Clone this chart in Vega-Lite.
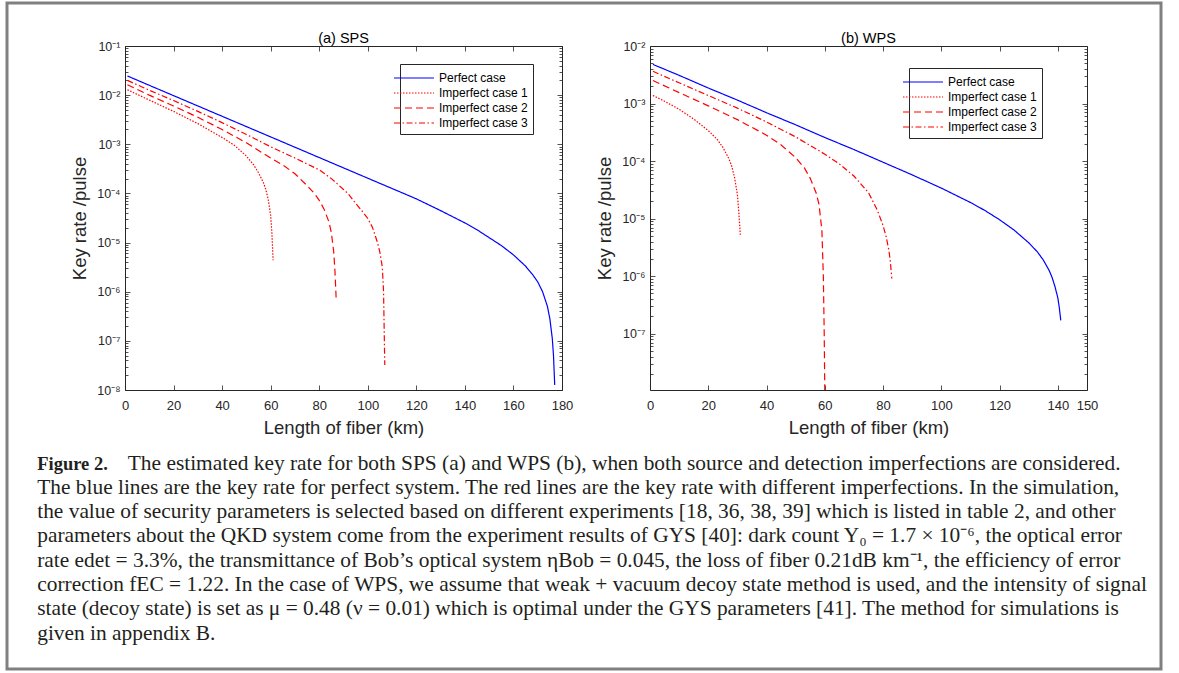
{
 "$schema": "https://vega.github.io/schema/vega-lite/v6.json",
 "background": "white",
 "padding": {"left": 5, "top": 1, "right": 0, "bottom": 0},
 "config": {
  "font": "Liberation Sans",
  "view": {"stroke": "#262626", "strokeWidth": 1},
  "axis": {"grid": false, "domain": false, "tickColor": "#262626", "tickWidth": 0.8, "tickSize": -5, "labelColor": "#262626", "labelFont": "Liberation Sans", "labelFontSize": 13, "labelFlush": false, "labelOverlap": false, "labelBound": false, "titleFont": "Liberation Sans", "titleFontSize": 18.5, "titleFontWeight": "normal", "titleColor": "#262626"},
  "axisLeft": {"titlePadding": 7, "labelPadding": 10, "labelFontSize": 12.5},
  "axisBottom": {"titlePadding": 6, "labelPadding": 14},
  "title": {"font": "Liberation Sans", "fontSize": 14.5, "fontWeight": "normal", "color": "#000000", "offset": -6.5},
  "legend": {"strokeColor": "#262626", "fillColor": "white", "padding": 5, "symbolType": "M-2.5,0H2.5", "symbolSize": 256, "symbolStrokeWidth": 1.2, "labelFont": "Liberation Sans", "labelFontSize": 12, "labelColor": "#000000", "labelOffset": 16, "rowPadding": 0, "cornerRadius": 0, "labelLimit": 200}
 },
 "datasets": {
  "sps": [
   {"series": "Perfect case", "x": 1, "y": 0.02455}, {"series": "Perfect case", "x": 10, "y": 0.01585}, {"series": "Perfect case", "x": 20, "y": 0.009772}, {"series": "Perfect case", "x": 30, "y": 0.006026}, {"series": "Perfect case", "x": 40, "y": 0.003715}, {"series": "Perfect case", "x": 50, "y": 0.002291}, {"series": "Perfect case", "x": 60, "y": 0.001413}, {"series": "Perfect case", "x": 70, "y": 0.000871}, {"series": "Perfect case", "x": 80, "y": 0.000537}, {"series": "Perfect case", "x": 90, "y": 0.000331}, {"series": "Perfect case", "x": 100, "y": 0.000204}, {"series": "Perfect case", "x": 110, "y": 0.0001259}, {"series": "Perfect case", "x": 120, "y": 0.0000776}, {"series": "Perfect case", "x": 130, "y": 0.0000447}, {"series": "Perfect case", "x": 140, "y": 0.0000251}, {"series": "Perfect case", "x": 145, "y": 0.0000182}, {"series": "Perfect case", "x": 150, "y": 0.00001259}, {"series": "Perfect case", "x": 155, "y": 0.00000871}, {"series": "Perfect case", "x": 160, "y": 0.00000562}, {"series": "Perfect case", "x": 165, "y": 0.00000331}, {"series": "Perfect case", "x": 168, "y": 0.00000219}, {"series": "Perfect case", "x": 170, "y": 0.000001585}, {"series": "Perfect case", "x": 172, "y": 0.000001}, {"series": "Perfect case", "x": 174, "y": 5.01e-7}, {"series": "Perfect case", "x": 175, "y": 2.82e-7}, {"series": "Perfect case", "x": 176, "y": 1.12e-7}, {"series": "Perfect case", "x": 176.5, "y": 5.01e-8}, {"series": "Perfect case", "x": 177, "y": 1.26e-8},
   {"series": "Imperfect case 1", "x": 1, "y": 0.01288}, {"series": "Imperfect case 1", "x": 10, "y": 0.007943}, {"series": "Imperfect case 1", "x": 20, "y": 0.004677}, {"series": "Imperfect case 1", "x": 30, "y": 0.00263}, {"series": "Imperfect case 1", "x": 40, "y": 0.00138}, {"series": "Imperfect case 1", "x": 45, "y": 0.000955}, {"series": "Imperfect case 1", "x": 50, "y": 0.000575}, {"series": "Imperfect case 1", "x": 53, "y": 0.00038}, {"series": "Imperfect case 1", "x": 55, "y": 0.000263}, {"series": "Imperfect case 1", "x": 57, "y": 0.000166}, {"series": "Imperfect case 1", "x": 58, "y": 0.00012}, {"series": "Imperfect case 1", "x": 59, "y": 0.0000759}, {"series": "Imperfect case 1", "x": 60, "y": 0.0000355}, {"series": "Imperfect case 1", "x": 60.5, "y": 0.00001585}, {"series": "Imperfect case 1", "x": 61, "y": 0.00000437},
   {"series": "Imperfect case 2", "x": 1, "y": 0.01622}, {"series": "Imperfect case 2", "x": 10, "y": 0.01}, {"series": "Imperfect case 2", "x": 20, "y": 0.006026}, {"series": "Imperfect case 2", "x": 30, "y": 0.003548}, {"series": "Imperfect case 2", "x": 40, "y": 0.001995}, {"series": "Imperfect case 2", "x": 50, "y": 0.001072}, {"series": "Imperfect case 2", "x": 60, "y": 0.000525}, {"series": "Imperfect case 2", "x": 65, "y": 0.00038}, {"series": "Imperfect case 2", "x": 70, "y": 0.000251}, {"series": "Imperfect case 2", "x": 75, "y": 0.0001445}, {"series": "Imperfect case 2", "x": 78, "y": 0.0001}, {"series": "Imperfect case 2", "x": 80, "y": 0.0000724}, {"series": "Imperfect case 2", "x": 82, "y": 0.0000479}, {"series": "Imperfect case 2", "x": 84, "y": 0.0000263}, {"series": "Imperfect case 2", "x": 85, "y": 0.00001585}, {"series": "Imperfect case 2", "x": 86, "y": 0.00000631}, {"series": "Imperfect case 2", "x": 86.5, "y": 0.00000251}, {"series": "Imperfect case 2", "x": 87, "y": 6.76e-7},
   {"series": "Imperfect case 3", "x": 1, "y": 0.01995}, {"series": "Imperfect case 3", "x": 10, "y": 0.01259}, {"series": "Imperfect case 3", "x": 20, "y": 0.007762}, {"series": "Imperfect case 3", "x": 30, "y": 0.004677}, {"series": "Imperfect case 3", "x": 40, "y": 0.002754}, {"series": "Imperfect case 3", "x": 50, "y": 0.001585}, {"series": "Imperfect case 3", "x": 60, "y": 0.000891}, {"series": "Imperfect case 3", "x": 70, "y": 0.000525}, {"series": "Imperfect case 3", "x": 75, "y": 0.000398}, {"series": "Imperfect case 3", "x": 80, "y": 0.000302}, {"series": "Imperfect case 3", "x": 85, "y": 0.0002}, {"series": "Imperfect case 3", "x": 88, "y": 0.000148}, {"series": "Imperfect case 3", "x": 90, "y": 0.00012}, {"series": "Imperfect case 3", "x": 92, "y": 0.0000977}, {"series": "Imperfect case 3", "x": 95, "y": 0.0000631}, {"series": "Imperfect case 3", "x": 98, "y": 0.0000417}, {"series": "Imperfect case 3", "x": 100, "y": 0.0000309}, {"series": "Imperfect case 3", "x": 102, "y": 0.00002}, {"series": "Imperfect case 3", "x": 104, "y": 0.00001}, {"series": "Imperfect case 3", "x": 105, "y": 0.00000631}, {"series": "Imperfect case 3", "x": 106, "y": 0.00000316}, {"series": "Imperfect case 3", "x": 106.5, "y": 0.000001}, {"series": "Imperfect case 3", "x": 107, "y": 3.24e-8}
  ],
  "wps": [
   {"series": "Perfect case", "x": 1, "y": 0.004786}, {"series": "Perfect case", "x": 10, "y": 0.00309}, {"series": "Perfect case", "x": 20, "y": 0.001862}, {"series": "Perfect case", "x": 30, "y": 0.001148}, {"series": "Perfect case", "x": 40, "y": 0.000692}, {"series": "Perfect case", "x": 50, "y": 0.000427}, {"series": "Perfect case", "x": 60, "y": 0.000257}, {"series": "Perfect case", "x": 70, "y": 0.0001585}, {"series": "Perfect case", "x": 80, "y": 0.0000955}, {"series": "Perfect case", "x": 90, "y": 0.0000575}, {"series": "Perfect case", "x": 100, "y": 0.0000339}, {"series": "Perfect case", "x": 110, "y": 0.00001905}, {"series": "Perfect case", "x": 115, "y": 0.0000138}, {"series": "Perfect case", "x": 120, "y": 0.00000955}, {"series": "Perfect case", "x": 125, "y": 0.00000631}, {"series": "Perfect case", "x": 130, "y": 0.0000038}, {"series": "Perfect case", "x": 133, "y": 0.00000263}, {"series": "Perfect case", "x": 135, "y": 0.000001905}, {"series": "Perfect case", "x": 137, "y": 0.000001259}, {"series": "Perfect case", "x": 138, "y": 9.55e-7}, {"series": "Perfect case", "x": 139, "y": 6.61e-7}, {"series": "Perfect case", "x": 140, "y": 4.17e-7}, {"series": "Perfect case", "x": 140.5, "y": 2.82e-7}, {"series": "Perfect case", "x": 141, "y": 1.7e-7},
   {"series": "Imperfect case 1", "x": 1, "y": 0.00138}, {"series": "Imperfect case 1", "x": 5, "y": 0.001096}, {"series": "Imperfect case 1", "x": 10, "y": 0.000794}, {"series": "Imperfect case 1", "x": 15, "y": 0.000537}, {"series": "Imperfect case 1", "x": 20, "y": 0.000339}, {"series": "Imperfect case 1", "x": 23, "y": 0.00024}, {"series": "Imperfect case 1", "x": 25, "y": 0.0001738}, {"series": "Imperfect case 1", "x": 27, "y": 0.0001122}, {"series": "Imperfect case 1", "x": 28, "y": 0.0000832}, {"series": "Imperfect case 1", "x": 29, "y": 0.0000525}, {"series": "Imperfect case 1", "x": 30, "y": 0.0000263}, {"series": "Imperfect case 1", "x": 30.5, "y": 0.00001259}, {"series": "Imperfect case 1", "x": 31, "y": 0.00000525},
   {"series": "Imperfect case 2", "x": 1, "y": 0.002512}, {"series": "Imperfect case 2", "x": 10, "y": 0.001549}, {"series": "Imperfect case 2", "x": 20, "y": 0.000912}, {"series": "Imperfect case 2", "x": 30, "y": 0.000525}, {"series": "Imperfect case 2", "x": 40, "y": 0.000282}, {"series": "Imperfect case 2", "x": 45, "y": 0.0001905}, {"series": "Imperfect case 2", "x": 50, "y": 0.0001148}, {"series": "Imperfect case 2", "x": 53, "y": 0.0000759}, {"series": "Imperfect case 2", "x": 55, "y": 0.0000501}, {"series": "Imperfect case 2", "x": 57, "y": 0.0000282}, {"series": "Imperfect case 2", "x": 58, "y": 0.00001778}, {"series": "Imperfect case 2", "x": 59, "y": 0.00000631}, {"series": "Imperfect case 2", "x": 59.5, "y": 0.000001}, {"series": "Imperfect case 2", "x": 59.8, "y": 1e-7}, {"series": "Imperfect case 2", "x": 60, "y": 1e-8},
   {"series": "Imperfect case 3", "x": 1, "y": 0.003631}, {"series": "Imperfect case 3", "x": 10, "y": 0.002291}, {"series": "Imperfect case 3", "x": 20, "y": 0.00138}, {"series": "Imperfect case 3", "x": 30, "y": 0.000832}, {"series": "Imperfect case 3", "x": 40, "y": 0.000479}, {"series": "Imperfect case 3", "x": 50, "y": 0.000263}, {"series": "Imperfect case 3", "x": 60, "y": 0.0001318}, {"series": "Imperfect case 3", "x": 65, "y": 0.0000891}, {"series": "Imperfect case 3", "x": 70, "y": 0.000055}, {"series": "Imperfect case 3", "x": 75, "y": 0.0000282}, {"series": "Imperfect case 3", "x": 78, "y": 0.00001413}, {"series": "Imperfect case 3", "x": 80, "y": 0.00000759}, {"series": "Imperfect case 3", "x": 81, "y": 0.00000501}, {"series": "Imperfect case 3", "x": 82, "y": 0.00000282}, {"series": "Imperfect case 3", "x": 82.5, "y": 0.000001778}, {"series": "Imperfect case 3", "x": 83, "y": 9.12e-7}
  ],
  "caption": [
   {"line": 1, "part": "head", "text": "Figure 2."},
   {"line": 1, "part": "first", "text": "The estimated key rate for both SPS (a) and WPS (b), when both source and detection imperfections are considered."},
   {"line": 2, "part": "body", "text": "The blue lines are the key rate for perfect system. The red lines are the key rate with different imperfections. In the simulation,"},
   {"line": 3, "part": "body", "text": "the value of security parameters is selected based on different experiments [18, 36, 38, 39] which is listed in table 2, and other"},
   {"line": 4, "part": "body", "text": "parameters about the QKD system come from the experiment results of GYS  [40]: dark count Y₀ = 1.7 × 10⁻⁶, the optical error"},
   {"line": 5, "part": "body", "text": "rate edet = 3.3%, the transmittance of Bob’s optical system ηBob = 0.045, the loss of fiber 0.21dB km⁻¹, the efficiency of error"},
   {"line": 6, "part": "body", "text": "correction fEC = 1.22. In the case of WPS, we assume that weak + vacuum decoy state method is used, and the intensity of signal"},
   {"line": 7, "part": "body", "text": "state (decoy state) is set as μ = 0.48 (ν = 0.01) which is optimal under the GYS parameters [41]. The method for simulations is"},
   {"line": 8, "part": "body", "text": "given in appendix B."}
  ]
 },
 "concat": [
  {
   "width": 1154, "height": 666,
   "view": {"stroke": "#808080", "strokeWidth": 3},
   "data": {"name": "caption"},
   "encoding": {
    "x": {"datum": 0, "type": "quantitative", "scale": {"domain": [-30.2, 1123.8], "nice": false, "zero": false}, "axis": null},
    "y": {"field": "line", "type": "quantitative", "scale": {"domain": [-18.198, 9.209], "reverse": true, "nice": false, "zero": false}, "axis": null},
    "text": {"field": "text", "type": "nominal"}
   },
   "layer": [
    {"transform": [{"filter": "datum.part === 'head'"}], "mark": {"type": "text", "align": "left", "baseline": "alphabetic", "font": "Liberation Serif", "fontSize": 18.5, "fontWeight": "bold", "color": "#231f20"}},
    {"transform": [{"filter": "datum.part === 'first'"}], "mark": {"type": "text", "align": "left", "baseline": "alphabetic", "font": "Liberation Serif", "fontSize": 21.4, "dx": 90.6, "color": "#231f20"}},
    {"transform": [{"filter": "datum.part === 'body'"}], "mark": {"type": "text", "align": "left", "baseline": "alphabetic", "font": "Liberation Serif", "fontSize": 21.4, "color": "#231f20"}}
   ]
  },
  {
   "hconcat": [
    {"width": 41, "height": 10, "view": {"stroke": "transparent"}, "data": {"values": [{}]}, "mark": {"type": "point", "opacity": 0}},
    {
     "title": {"text": "(a) SPS"},
     "width": 437, "height": 344,
     "data": {"name": "sps"},
     "layer": [
      {
       "mark": {"type": "line", "strokeWidth": 1.2, "clip": true},
       "encoding": {
        "x": {"field": "x", "type": "quantitative", "scale": {"domain": [0, 180], "nice": false, "zero": false}, "axis": {"orient": "bottom", "title": "Length of fiber (km)", "values": [0, 20, 40, 60, 80, 100, 120, 140, 160, 180]}},
        "y": {"field": "y", "type": "quantitative", "scale": {"type": "log", "domain": [1e-8, 0.1], "nice": false}, "axis": {"orient": "left", "title": "Key rate /pulse", "values": [1e-8, 2e-8, 3e-8, 4e-8, 5e-8, 6e-8, 7e-8, 8e-8, 9e-8, 1e-7, 2e-7, 3e-7, 4e-7, 5e-7, 6e-7, 7e-7, 8e-7, 9e-7, 1e-6, 2e-6, 3e-6, 4e-6, 5e-6, 6e-6, 7e-6, 8e-6, 9e-6, 1e-5, 2e-5, 3e-5, 4e-5, 5e-5, 6e-5, 7e-5, 8e-5, 9e-5, 1e-4, 2e-4, 3e-4, 4e-4, 5e-4, 6e-4, 7e-4, 8e-4, 9e-4, 1e-3, 2e-3, 3e-3, 4e-3, 5e-3, 6e-3, 7e-3, 8e-3, 9e-3, 1e-2, 2e-2, 3e-2, 4e-2, 5e-2, 6e-2, 7e-2, 8e-2, 9e-2, 1e-1], "labelExpr": "abs(log(datum.value)/LN10 - round(log(datum.value)/LN10)) < 0.001 ? '10⁻' + ['⁰','¹','²','³','⁴','⁵','⁶','⁷','⁸','⁹'][-round(log(datum.value)/LN10)] : ''", "tickSize": {"condition": {"test": "abs(log(datum.value)/LN10 - round(log(datum.value)/LN10)) < 0.001", "value": -5}, "value": -3}}},
        "color": {"field": "series", "type": "nominal", "scale": {"domain": ["Perfect case", "Imperfect case 1", "Imperfect case 2", "Imperfect case 3"], "range": ["#0000ff", "#ff0000", "#ff0000", "#ff0000"]}, "legend": {"title": null, "orient": "none", "legendX": 275, "legendY": 18}},
        "strokeDash": {"field": "series", "type": "nominal", "scale": {"domain": ["Perfect case", "Imperfect case 1", "Imperfect case 2", "Imperfect case 3"], "range": [[1, 0], [1.5, 1.5], [7, 4], [6, 2.5, 1.5, 2.5]]}, "legend": {"title": null, "orient": "none", "legendX": 275, "legendY": 18}}
       }
      },
      {
       "mark": {"type": "point", "opacity": 0},
       "encoding": {
        "x": {"field": "x", "type": "quantitative", "scale": {"domain": [0, 180], "nice": false, "zero": false}, "axis": {"orient": "top", "title": null, "labels": false, "values": [0, 20, 40, 60, 80, 100, 120, 140, 160, 180]}},
        "y": {"field": "y", "type": "quantitative", "scale": {"type": "log", "domain": [1e-8, 0.1], "nice": false}, "axis": {"orient": "right", "title": null, "labels": false, "values": [1e-8, 2e-8, 3e-8, 4e-8, 5e-8, 6e-8, 7e-8, 8e-8, 9e-8, 1e-7, 2e-7, 3e-7, 4e-7, 5e-7, 6e-7, 7e-7, 8e-7, 9e-7, 1e-6, 2e-6, 3e-6, 4e-6, 5e-6, 6e-6, 7e-6, 8e-6, 9e-6, 1e-5, 2e-5, 3e-5, 4e-5, 5e-5, 6e-5, 7e-5, 8e-5, 9e-5, 1e-4, 2e-4, 3e-4, 4e-4, 5e-4, 6e-4, 7e-4, 8e-4, 9e-4, 1e-3, 2e-3, 3e-3, 4e-3, 5e-3, 6e-3, 7e-3, 8e-3, 9e-3, 1e-2, 2e-2, 3e-2, 4e-2, 5e-2, 6e-2, 7e-2, 8e-2, 9e-2, 1e-1], "tickSize": {"condition": {"test": "abs(log(datum.value)/LN10 - round(log(datum.value)/LN10)) < 0.001", "value": -5}, "value": -3}}}
       }
      }
     ],
     "resolve": {"scale": {"x": "independent", "y": "independent"}}
    },
    {
     "title": {"text": "(b) WPS"},
     "width": 437, "height": 344,
     "data": {"name": "wps"},
     "layer": [
      {
       "mark": {"type": "line", "strokeWidth": 1.2, "clip": true},
       "encoding": {
        "x": {"field": "x", "type": "quantitative", "scale": {"domain": [0, 150], "nice": false, "zero": false}, "axis": {"orient": "bottom", "title": "Length of fiber (km)", "values": [0, 20, 40, 60, 80, 100, 120, 140, 150]}},
        "y": {"field": "y", "type": "quantitative", "scale": {"type": "log", "domain": [1.05e-8, 0.01], "nice": false}, "axis": {"orient": "left", "title": "Key rate /pulse", "values": [2e-8, 3e-8, 4e-8, 5e-8, 6e-8, 7e-8, 8e-8, 9e-8, 1e-7, 2e-7, 3e-7, 4e-7, 5e-7, 6e-7, 7e-7, 8e-7, 9e-7, 1e-6, 2e-6, 3e-6, 4e-6, 5e-6, 6e-6, 7e-6, 8e-6, 9e-6, 1e-5, 2e-5, 3e-5, 4e-5, 5e-5, 6e-5, 7e-5, 8e-5, 9e-5, 1e-4, 2e-4, 3e-4, 4e-4, 5e-4, 6e-4, 7e-4, 8e-4, 9e-4, 1e-3, 2e-3, 3e-3, 4e-3, 5e-3, 6e-3, 7e-3, 8e-3, 9e-3, 1e-2], "labelExpr": "abs(log(datum.value)/LN10 - round(log(datum.value)/LN10)) < 0.001 ? '10⁻' + ['⁰','¹','²','³','⁴','⁵','⁶','⁷','⁸','⁹'][-round(log(datum.value)/LN10)] : ''", "tickSize": {"condition": {"test": "abs(log(datum.value)/LN10 - round(log(datum.value)/LN10)) < 0.001", "value": -5}, "value": -3}}},
        "color": {"field": "series", "type": "nominal", "scale": {"domain": ["Perfect case", "Imperfect case 1", "Imperfect case 2", "Imperfect case 3"], "range": ["#0000ff", "#ff0000", "#ff0000", "#ff0000"]}, "legend": {"title": null, "orient": "none", "legendX": 259, "legendY": 22}},
        "strokeDash": {"field": "series", "type": "nominal", "scale": {"domain": ["Perfect case", "Imperfect case 1", "Imperfect case 2", "Imperfect case 3"], "range": [[1, 0], [1.5, 1.5], [7, 4], [6, 2.5, 1.5, 2.5]]}, "legend": {"title": null, "orient": "none", "legendX": 259, "legendY": 22}}
       }
      },
      {
       "mark": {"type": "point", "opacity": 0},
       "encoding": {
        "x": {"field": "x", "type": "quantitative", "scale": {"domain": [0, 150], "nice": false, "zero": false}, "axis": {"orient": "top", "title": null, "labels": false, "values": [0, 20, 40, 60, 80, 100, 120, 140]}},
        "y": {"field": "y", "type": "quantitative", "scale": {"type": "log", "domain": [1.05e-8, 0.01], "nice": false}, "axis": {"orient": "right", "title": null, "labels": false, "values": [2e-8, 3e-8, 4e-8, 5e-8, 6e-8, 7e-8, 8e-8, 9e-8, 1e-7, 2e-7, 3e-7, 4e-7, 5e-7, 6e-7, 7e-7, 8e-7, 9e-7, 1e-6, 2e-6, 3e-6, 4e-6, 5e-6, 6e-6, 7e-6, 8e-6, 9e-6, 1e-5, 2e-5, 3e-5, 4e-5, 5e-5, 6e-5, 7e-5, 8e-5, 9e-5, 1e-4, 2e-4, 3e-4, 4e-4, 5e-4, 6e-4, 7e-4, 8e-4, 9e-4, 1e-3, 2e-3, 3e-3, 4e-3, 5e-3, 6e-3, 7e-3, 8e-3, 9e-3, 1e-2], "tickSize": {"condition": {"test": "abs(log(datum.value)/LN10 - round(log(datum.value)/LN10)) < 0.001", "value": -5}, "value": -3}}}
       }
      }
     ],
     "resolve": {"scale": {"x": "independent", "y": "independent"}}
    }
   ],
   "spacing": 21,
   "resolve": {"scale": {"color": "independent", "strokeDash": "independent"}}
  }
 ],
 "columns": 1,
 "align": "none",
 "spacing": -641
}
